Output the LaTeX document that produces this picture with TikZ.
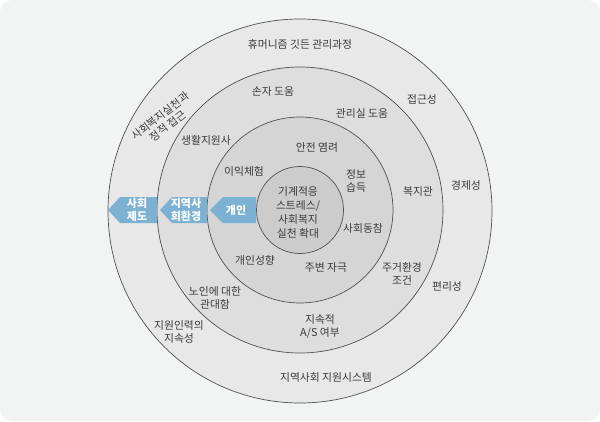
\documentclass[tikz,border=0pt]{standalone}
\usepackage{fontspec}
\setmainfont{Noto Sans CJK KR}
\definecolor{bgcol}{HTML}{F2F4F4}
\definecolor{ringA}{HTML}{E8E8E8}
\definecolor{ringB}{HTML}{DEDEDE}
\definecolor{ringC}{HTML}{D5D5D5}
\definecolor{ringD}{HTML}{CCCCCC}
\definecolor{linecol}{HTML}{505050}
\definecolor{txtcol}{HTML}{3A3A3A}
\definecolor{blockblue}{HTML}{7DB1D3}
\begin{document}
\begin{tikzpicture}[
        x=1pt, y=-1pt,
        ring/.style={draw=linecol, line width=0.7pt},
        lbl/.style={text=txtcol, font=\fontsize{10.8}{13}\selectfont, align=center, inner sep=0pt},
        blk/.style={text=white, font=\fontsize{11}{13.5}\selectfont\bfseries, align=center, inner sep=0pt}
    ]
        % Background card
        \fill[white] (0,0) rectangle (600,421);
        \fill[bgcol, rounded corners=12pt] (0,0) rectangle (600,421);

        % Rings, outside to inside
        \filldraw[ring, fill=ringA] (300,211) circle[radius=192pt];
        \filldraw[ring, fill=ringB] (300,210) circle[radius=143pt];
        \filldraw[ring, fill=ringC] (300,210) circle[radius=93pt];
        \filldraw[ring, fill=ringD] (300,210) circle[radius=43.5pt];

        % Blue blocks pointing outwards
        \fill[blockblue] (108,210) -- (120,197) -- (157,197) -- (157,223) -- (120,223) -- cycle;
        \fill[blockblue] (160,210) -- (172,197) -- (207,197) -- (207,223) -- (172,223) -- cycle;
        \fill[blockblue] (210,210) -- (223,197) -- (256,197) -- (256,223) -- (223,223) -- cycle;
        \node[blk] (society) at (137,210) {사회\\제도};
        \node[blk] (community) at (186,210) {지역사\\회환경};
        \node[blk] (person) at (236,210) {개인};

        % Outer ring
        \node[lbl] (humanism) at (300,44) {휴머니즘 깃든 관리과정};
        \node[lbl] (access) at (422,99) {접근성};
        \node[lbl, rotate=38, font=\fontsize{10.8}{12.5}\selectfont] (practice) at (164,121) {사회복지실천과\\정적 접근};
        \node[lbl] (economy) at (466,185) {경제성};
        \node[lbl] (convenience) at (447,286) {편리성};
        \node[lbl] (staff) at (179,332) {지원인력의\\지속성};
        \node[lbl] (support) at (326,377) {지역사회 지원시스템};

        % Second ring
        \node[lbl] (grandchild) at (273,91) {손자 도움};
        \node[lbl] (office) at (362,113) {관리실 도움};
        \node[lbl] (lifeaid) at (206,140) {생활지원사};
        \node[lbl] (welfare) at (418,191) {복지관};
        \node[lbl] (housing) at (402,274) {주거환경\\조건};
        \node[lbl] (tolerance) at (215,298) {노인에 대한\\관대함};
        \node[lbl] (service) at (320,326) {지속적\\A/S 여부};

        % Third ring
        \node[lbl] (safety) at (317,147) {안전 염려};
        \node[lbl] (benefit) at (244,171) {이익체험};
        \node[lbl] (info) at (356,181) {정보\\습득};
        \node[lbl] (participation) at (363,228) {사회동참};
        \node[lbl] (tendency) at (255,260) {개인성향};
        \node[lbl] (stimulus) at (326,267) {주변 자극};

        % Core
        \node[lbl, font=\fontsize{10.8}{14}\selectfont] (core) at (298,212) {기계적응\\스트레스/\\사회복지\\실천 확대};
    \end{tikzpicture}
\end{document}
